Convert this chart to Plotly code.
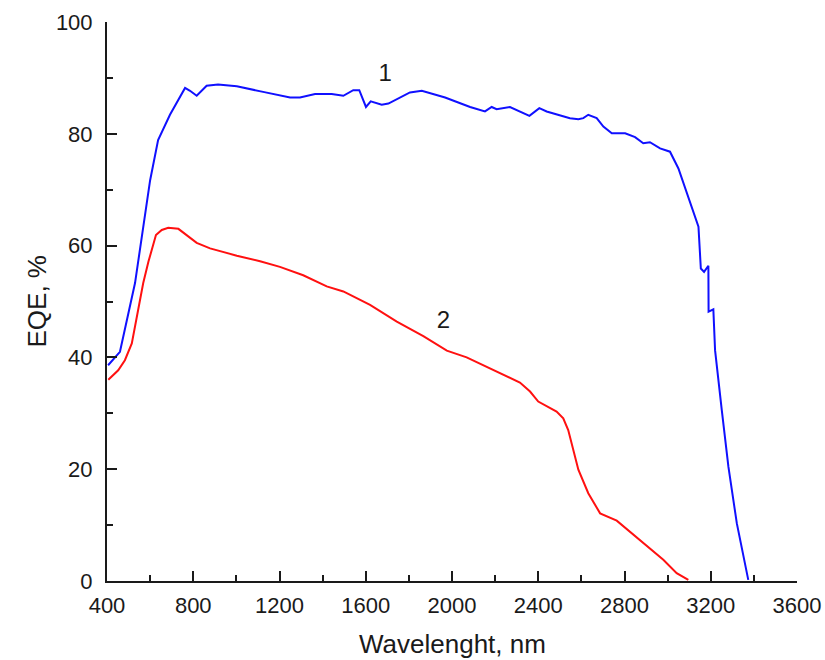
import plotly.graph_objects as go

# Curve 1 (blue)
wl1 = [405, 460, 530, 600, 637, 692, 762, 785, 816, 862, 915, 1002, 1124, 1249, 1295,
       1365, 1442, 1496, 1542, 1570, 1601, 1623, 1674, 1705, 1805, 1860, 1968, 2084,
       2153, 2184, 2207, 2269, 2359, 2405, 2439, 2547, 2586, 2609, 2632, 2671, 2702,
       2741, 2803, 2849, 2887, 2918, 2965, 3011, 3050, 3096, 3143, 3154, 3169, 3189,
       3190, 3212, 3220, 3251, 3282, 3321, 3374]
eqe1 = [38.6, 41.0, 53.3, 71.7, 78.9, 83.4, 88.2, 87.7, 86.8, 88.6, 88.8, 88.5, 87.5,
        86.5, 86.5, 87.1, 87.1, 86.8, 87.8, 87.8, 84.8, 85.8, 85.2, 85.4, 87.4, 87.7,
        86.5, 84.8, 84.0, 84.8, 84.4, 84.8, 83.2, 84.6, 84.0, 82.8, 82.6, 82.8, 83.4,
        82.8, 81.3, 80.1, 80.1, 79.4, 78.3, 78.5, 77.4, 76.8, 73.8, 68.8, 63.4, 55.9,
        55.3, 56.4, 48.2, 48.6, 41.3, 30.6, 20.4, 10.3, 0.2]

# Curve 2 (red)
wl2 = [406, 452, 483, 515, 568, 592, 627, 654, 684, 731, 816, 878, 1002, 1110, 1202,
       1310, 1419, 1496, 1620, 1744, 1867, 1976, 2068, 2207, 2315, 2362, 2400, 2485,
       2516, 2539, 2586, 2632, 2687, 2764, 2826, 2887, 2980, 3042, 3096]
eqe2 = [36.0, 37.7, 39.5, 42.5, 53.3, 57.1, 61.9, 62.8, 63.2, 63.0, 60.5, 59.5, 58.2,
        57.2, 56.2, 54.7, 52.7, 51.8, 49.4, 46.4, 43.8, 41.2, 40.0, 37.4, 35.5, 33.9,
        32.1, 30.3, 29.1, 27.0, 19.9, 15.7, 12.1, 10.8, 8.8, 6.7, 3.8, 1.4, 0.2]

x_ticks = [400, 800, 1200, 1600, 2000, 2400, 2800, 3200, 3600]
x_minor = [600, 1000, 1400, 1800, 2200, 2600, 3000, 3400]
y_ticks = [0, 20, 40, 60, 80, 100]
y_minor = [10, 30, 50, 70, 90]

labels = ["1", "2"]
label_x = [1690, 1960]
label_y = [90.5, 46.3]

font = "Liberation Sans, Arial, sans-serif"
ink = "#1a1a1a"

fig = go.Figure()
fig.add_trace(go.Scatter(x=wl1, y=eqe1, mode="lines",
                         line=dict(color="#1010ff", width=2), showlegend=False))
fig.add_trace(go.Scatter(x=wl2, y=eqe2, mode="lines",
                         line=dict(color="#ff1010", width=2), showlegend=False))
fig.add_trace(go.Scatter(x=label_x, y=label_y, mode="text", text=labels,
                         textfont=dict(size=24, color=ink, family=font),
                         showlegend=False))

fig.update_layout(
    width=825, height=660,
    margin=dict(l=107, r=28, t=22, b=79),
    paper_bgcolor="white", plot_bgcolor="white",
    font=dict(family=font, color=ink),
    annotations=[
        dict(text="Wavelenght, nm", x=0.5, y=0, xref="paper", yref="paper",
             xanchor="center", yanchor="middle", yshift=-63, showarrow=False,
             font=dict(size=26, color=ink)),
        dict(text="EQE, %", x=0, y=0.5, xref="paper", yref="paper",
             xanchor="center", yanchor="middle", xshift=-71, textangle=-90,
             showarrow=False, font=dict(size=26, color=ink)),
    ],
)
fig.update_xaxes(range=[400, 3600], tickvals=x_ticks, ticks="inside", ticklen=10,
                 tickwidth=2, tickcolor=ink, showline=True, linewidth=2,
                 linecolor=ink, showgrid=False, zeroline=False, automargin=False,
                 tickfont=dict(size=22), ticklabelstandoff=4,
                 ticklabeloverflow="allow",
                 minor=dict(tickvals=x_minor, ticks="inside", ticklen=6,
                            tickwidth=2, tickcolor=ink))
fig.update_yaxes(range=[0, 100], tickvals=y_ticks, ticks="inside", ticklen=10,
                 tickwidth=2, tickcolor=ink, showline=True, linewidth=2,
                 linecolor=ink, showgrid=False, zeroline=False, automargin=False,
                 tickfont=dict(size=22), ticklabelstandoff=8,
                 minor=dict(tickvals=y_minor, ticks="inside", ticklen=6,
                            tickwidth=2, tickcolor=ink))

# remove the page's default body margin so the 825x660 figure fills the window
fig.write_html("out.html",
               config={"displayModeBar": False},
               post_script="document.body.style.margin='0';"
                           "document.body.style.overflow='hidden';")
